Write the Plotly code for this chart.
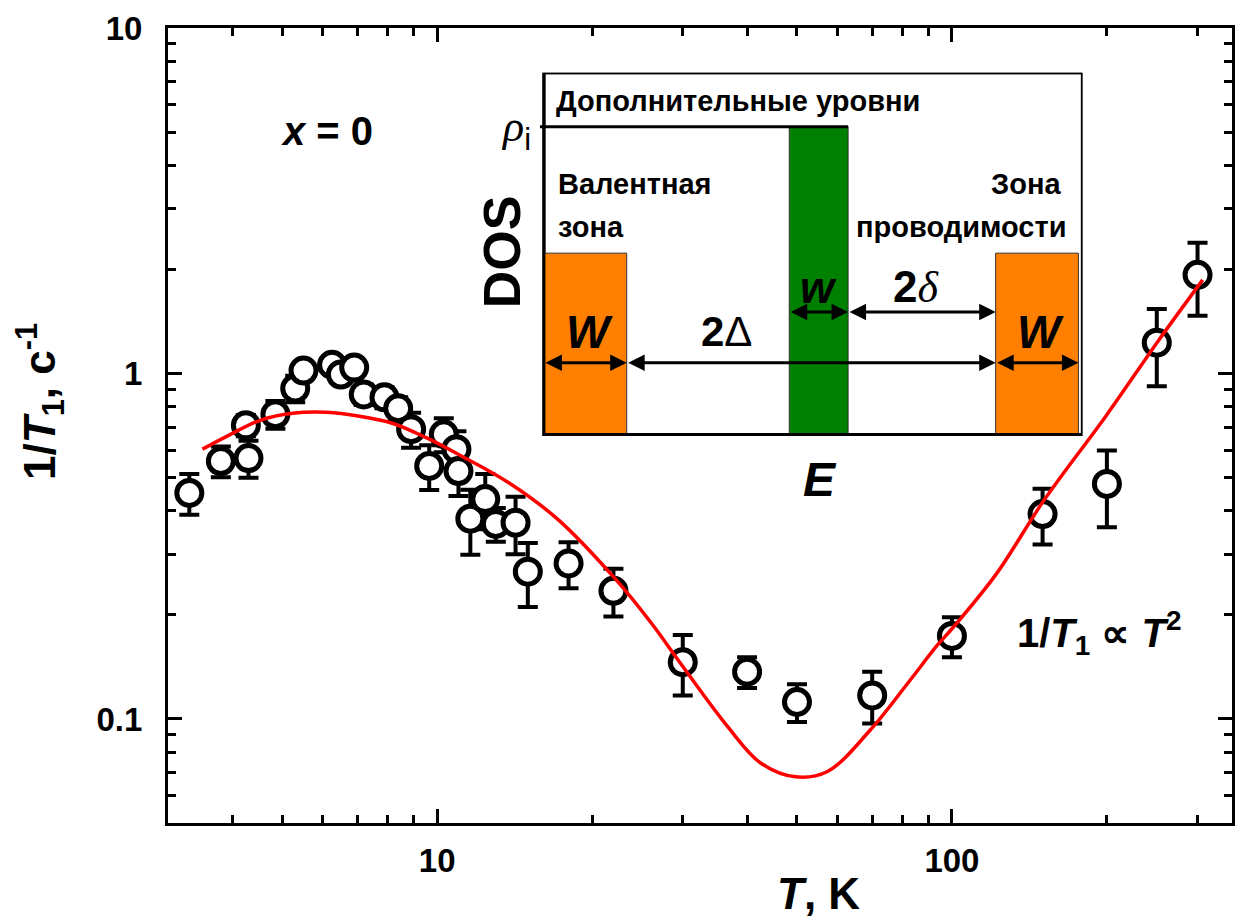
import numpy as np
import plotly.graph_objects as go

# Measured spin-lattice relaxation rate, x = 0
T = [3.3, 3.8, 4.25, 4.3, 4.85, 5.3, 5.5, 6.25, 6.5, 6.9, 7.2, 7.9, 8.4, 8.9,
     9.65, 10.3, 10.9, 11.0, 11.6, 12.4, 13.0, 14.2, 15.0, 18.0, 22.0, 30.0,
     40.0, 50.0, 70.0, 100.0, 150.0, 200.0, 250.0, 300.0]
rate = [0.451, 0.558, 0.708, 0.569, 0.762, 0.905, 1.02, 1.06, 0.993, 1.04,
        0.870, 0.853, 0.793, 0.690, 0.540, 0.667, 0.604, 0.522, 0.380, 0.433,
        0.367, 0.370, 0.267, 0.282, 0.235, 0.146, 0.137, 0.112, 0.117, 0.174,
        0.392, 0.479, 1.228, 1.93]
rate_err = [0.061, 0.057, 0.05, 0.07, 0.07, 0.08, 0.06, 0.05, 0.05, 0.05,
            0.06, 0.06, 0.06, 0.08, 0.08, 0.075, 0.077, 0.08, 0.081, 0.079,
            0.041, 0.07, 0.056, 0.043, 0.037, 0.029, 0.014, 0.014, 0.020,
            0.023, 0.072, 0.12, 0.31, 0.46]

# Model curve
fit_T = [3.5, 3.91, 4.53, 5.24, 6.1, 7.07, 8.18, 9.52, 11.03, 13.8, 17.2,
         22.1, 26.1, 29.4, 36.7, 42.5, 49.7, 57.3, 69.4, 83.0, 93.5, 100.5,
         122.0, 150.7, 200.0, 251.0, 307.0]
fit_rate = [0.604, 0.659, 0.732, 0.767, 0.772, 0.752, 0.718, 0.652, 0.582,
            0.482, 0.377, 0.256, 0.189, 0.148, 0.0949, 0.0746, 0.068, 0.0705,
            0.0929, 0.1297, 0.163, 0.184, 0.263, 0.428, 0.76, 1.236, 1.866]

x_major = [10, 100]
x_major_text = ["10", "100"]
y_major = [0.1, 1, 10]
y_major_text = ["0.1", "1", "10"]

FONT = "Liberation Sans, Arial, sans-serif"
SERIF_I = "<span style=\"font-family:'Liberation Serif';font-style:italic\">{}</span>"

# Inset (DOS scheme) geometry, in inset units (frame spans 0..BOX_W, 0..BOX_H)
BOX_W, BOX_H = 540, 363
BAND_W, BAND_H = 83, 182            # valence / conduction band width W and height
GAP_2D = 370                        # 2Delta
IMP_L, IMP_W, IMP_H = 246, 59, 309  # impurity band: position, width w, height rho_i
ARROW_LOW, ARROW_UP = 72, 123
PAD_L, PAD_B = 70, 72               # room left of / below the frame for its labels

fig = go.Figure()

fig.add_trace(go.Scatter(
    x=T, y=rate, mode="markers", showlegend=False, hoverinfo="x+y",
    marker=dict(symbol="circle", size=25, color="white",
                line=dict(color="black", width=5)),
    error_y=dict(type="data", array=rate_err, visible=True, color="black",
                 thickness=4, width=10),
))
fig.add_trace(go.Scatter(
    x=fit_T, y=fit_rate, mode="lines", showlegend=False,
    line=dict(color="#ff0000", width=3.5, shape="spline"),
))
# invisible point so the inset axes exist
fig.add_trace(go.Scatter(x=[0], y=[0], xaxis="x2", yaxis="y2", mode="markers",
                         marker=dict(opacity=0), showlegend=False, hoverinfo="skip"))

minor_x = [m * 10 ** e for e in range(0, 3) for m in range(2, 10)]
minor_y = [m * 10 ** e for e in range(-2, 1) for m in range(2, 10)]

axis_common = dict(
    type="log", tickmode="array", ticks="inside", ticklen=14, tickwidth=3,
    tickcolor="black", showline=True, linewidth=3, linecolor="black",
    mirror="ticks", showgrid=False, zeroline=False,
    tickfont=dict(size=33, family=FONT, color="black"),
)

fig.update_layout(
    width=1245, height=921,
    margin=dict(l=168, r=10, t=25, b=98),
    paper_bgcolor="white", plot_bgcolor="rgba(0,0,0,0)",
    font=dict(family=FONT, color="black"),
    xaxis=dict(axis_common, range=[np.log10(3), np.log10(350)],
               tickvals=x_major, ticktext=[f"<b>{t}</b>" for t in x_major_text],
               ticklabelstandoff=6,
               minor=dict(tickmode="array", tickvals=minor_x, ticks="inside",
                          ticklen=8, tickwidth=3, tickcolor="black")),
    yaxis=dict(axis_common, range=[np.log10(0.05), 1],
               tickvals=y_major, ticktext=[f"<b>{t}</b>" for t in y_major_text],
               ticklabelstandoff=16,
               minor=dict(tickmode="array", tickvals=minor_y, ticks="inside",
                          ticklen=8, tickwidth=3, tickcolor="black")),
    xaxis2=dict(domain=[(545 - PAD_L - 168) / 1067, (1085 - 168) / 1067],
                range=[-PAD_L, BOX_W], visible=False, anchor="y2"),
    yaxis2=dict(domain=[(823 - 433 - PAD_B) / 798, (823 - 70) / 798],
                range=[-PAD_B, BOX_H], visible=False, anchor="x2"),
)

shapes = []
# inset frame
shapes.append(dict(type="rect", xref="x2", yref="y2", x0=0, x1=BOX_W, y0=0, y1=BOX_H,
                   line=dict(color="black", width=3), fillcolor="white"))
# bands
band_line = dict(color="#333333", width=1)
shapes.append(dict(type="rect", xref="x2", yref="y2", x0=0, x1=BAND_W, y0=0, y1=BAND_H,
                   line=band_line, fillcolor="#ff8000"))
shapes.append(dict(type="rect", xref="x2", yref="y2", x0=BAND_W + GAP_2D,
                   x1=BAND_W + GAP_2D + BAND_W, y0=0, y1=BAND_H,
                   line=band_line, fillcolor="#ff8000"))
shapes.append(dict(type="rect", xref="x2", yref="y2", x0=IMP_L, x1=IMP_L + IMP_W,
                   y0=0, y1=IMP_H, line=band_line, fillcolor="#008000"))
# rho_i level line
shapes.append(dict(type="line", xref="x2", yref="y2", x0=-4, x1=IMP_L + IMP_W,
                   y0=IMP_H, y1=IMP_H, line=dict(color="black", width=3)))
# frame border on top of the bands
shapes.append(dict(type="rect", xref="x2", yref="y2", x0=0, x1=BOX_W, y0=0, y1=BOX_H,
                   line=dict(color="black", width=3), fillcolor="rgba(0,0,0,0)"))
fig.update_layout(shapes=shapes)

ann = []


def arrow(x0, x1, y):
    ann.append(dict(xref="x2", yref="y2", axref="x2", ayref="y2", x=x1, y=y, ax=x0, ay=y,
                    text="", showarrow=True, arrowhead=2, arrowside="end+start",
                    arrowsize=1.1, arrowwidth=3, arrowcolor="black",
                    standoff=0, startstandoff=0))


arrow(0, BAND_W, ARROW_LOW)
arrow(BAND_W, BAND_W + GAP_2D, ARROW_LOW)
arrow(BAND_W + GAP_2D, BAND_W + GAP_2D + BAND_W, ARROW_LOW)
arrow(IMP_L, IMP_L + IMP_W, ARROW_UP)
arrow(IMP_L + IMP_W, BAND_W + GAP_2D, ARROW_UP)


def label(x, y, text, size, xanchor="center", ref="x2", angle=0):
    yref = "y2" if ref == "x2" else "paper"
    ann.append(dict(xref=ref, yref=yref, x=x, y=y, text=text, showarrow=False,
                    xanchor=xanchor, yanchor="middle", textangle=angle,
                    font=dict(size=size, family=FONT, color="black")))


label(10, 335, "<b>Дополнительные уровни</b>", 29, "left")
label(12, 251, "<b>Валентная</b>", 29, "left")
label(12, 208, "<b>зона</b>", 29, "left")
label(521, 251, "<b>Зона</b>", 29, "right")
label(527, 208, "<b>проводимости</b>", 29, "right")
label(BAND_W / 2 + 4, 103, "<b><i>W</i></b>", 46)
label(BAND_W + GAP_2D + BAND_W / 2 + 3, 103, "<b><i>W</i></b>", 46)
label(183, 103, "<b>2</b>Δ", 42)
label(IMP_L + IMP_W / 2, 148, "<b><i>w</i></b>", 44)
label(373, 148, "<b>2</b>" + SERIF_I.format("δ"), 44)
label(277, -45, "<b><i>E</i></b>", 48)
label(-42, 183, "<b>DOS</b>", 52, angle=-90)
label(-28, 306, SERIF_I.format("ρ") + "<sub>i</sub>", 44)

# main-panel labels
label((327 - 168) / 1067, (823 - 128) / 798, "<b><i>x</i> = 0</b>", 40, ref="paper")
label((1102 - 168) / 1067, (823 - 632) / 798,
      "<b>1/<i>T</i><sub>1</sub> ∝ <i>T</i><sup>2</sup></b>", 40, ref="paper")
# axis titles
label((820 - 168) / 1067, (823 - 894) / 798, "<b><i>T</i>, K</b>", 44, ref="paper")
label((40 - 168) / 1067, (823 - 400) / 798, "<b>1/<i>T</i><sub>1</sub>, c<sup>-1</sup></b>",
      44, ref="paper", angle=-90)

fig.update_layout(annotations=ann)

fig.write_html("out.html")
